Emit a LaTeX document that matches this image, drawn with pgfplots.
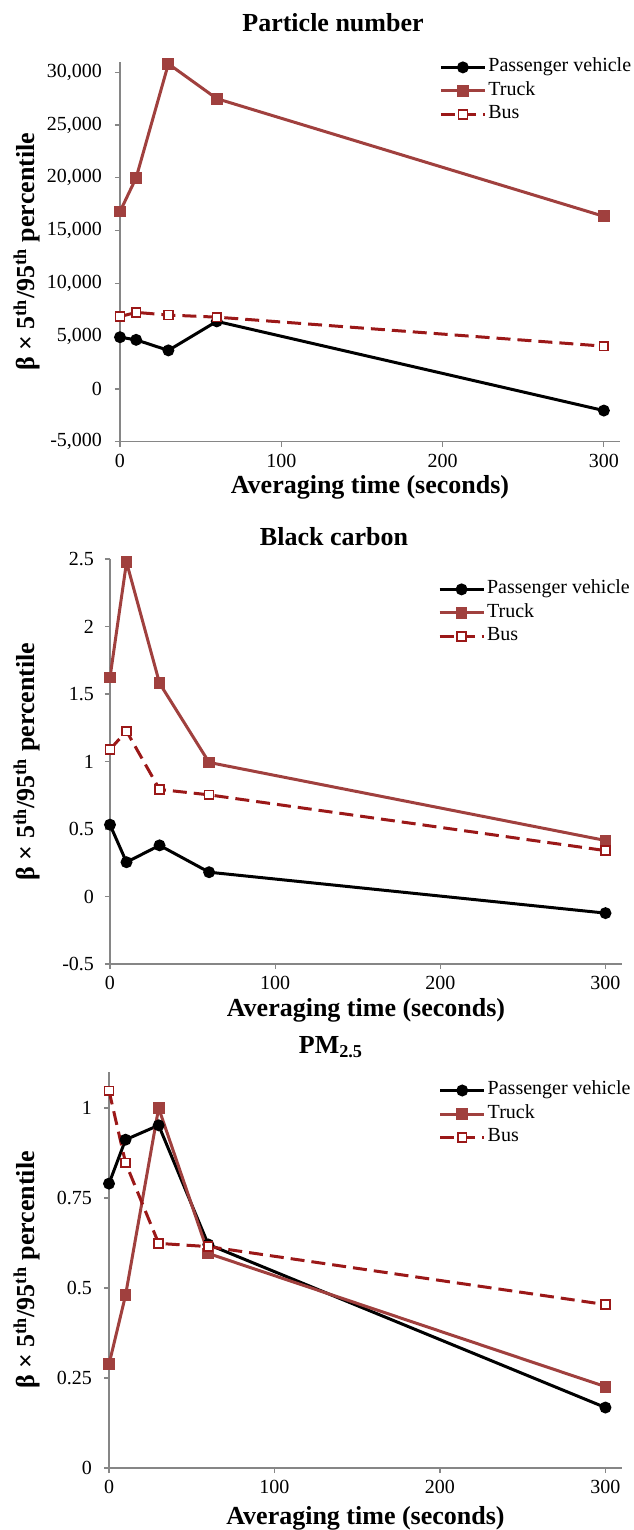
\documentclass[border=0pt]{standalone}
\usepackage{fontspec}
\setmainfont{Liberation Serif}
\usepackage{pgfplots}
\pgfplotsset{compat=1.18}
\definecolor{truckc}{RGB}{160,64,62}
\definecolor{busc}{RGB}{155,24,24}
\definecolor{axgray}{RGB}{134,134,134}
\pgfplotsset{
  base/.style={
    scale only axis,
    axis lines=left,
    axis line style={draw=axgray, line width=0.6pt, -},
    tick style={draw=axgray, line width=0.6pt},
    tick align=outside,
    major tick length=2.5pt,
    xmin=0, xmax=310,
    xtick={0,100,200,300},
    /pgf/number format/assume math mode=true,
    ticklabel style={font=\fontsize{10}{12}\selectfont},
    scaled y ticks=false,
    label style={font=\bfseries\fontsize{13}{15}\selectfont},
    xlabel={Averaging time (seconds)},
    ylabel={β × 5\textsuperscript{th}/95\textsuperscript{th} percentile},
    legend cell align=left,
    legend style={draw=none, fill=none, inner sep=0pt, row sep=0pt,
      font=\fontsize{10}{12}\selectfont,
      nodes={inner sep=1pt, text height=7pt, text depth=2.75pt},
      anchor=north west},
    legend image code/.code={\draw[mark repeat=2,mark phase=2] plot coordinates {(0pt,0pt) (11pt,0pt) (22pt,0pt)};},
  },
  pv/.style={black, line width=1.5pt, mark=*, mark size=2.2pt, mark options={solid, fill=black}},
  tr/.style={truckc, line width=1.5pt, mark=square*, mark size=2.2pt, mark options={solid, fill=truckc}},
  bu/.style={busc, line width=1.5pt, dash pattern=on 7pt off 3.5pt, mark=square*, mark size=2.2pt, mark options={solid, fill=white, draw=busc, line width=0.8pt}},
}
\begin{document}
\begin{tikzpicture}[x=1pt,y=1pt]
% Panel 1: Particle number
\begin{axis}[base,
  at={(60pt,-220.85pt)}, anchor=south west,
  width=250pt, height=190pt,
  ymin=-5000, ymax=31000,
  ytick={-5000,0,5000,10000,15000,20000,25000,30000},
  yticklabel style={/pgf/number format/fixed, /pgf/number format/1000 sep={,}, xshift=-3pt},
  x label style={at={(axis description cs:0.5,-0.121)}, anchor=center},
  y label style={at={(axis description cs:-0.186,0.5)}, anchor=center},
  legend style={at={(axis description cs:0.638,1.017)}},
]
\addplot[pv] coordinates {(0,4900) (10,4650) (30,3650) (60,6400) (300,-2050)};
\addlegendentry{Passenger vehicle}
\addplot[tr] coordinates {(0,16800) (10,20000) (30,30800) (60,27500) (300,16350)};
\addlegendentry{Truck}
\addplot[bu] coordinates {(0,6850) (10,7250) (30,7000) (60,6800) (300,4050)};
\addlegendentry{Bus}
\end{axis}
% Panel 2: Black carbon
\begin{axis}[base,
  at={(55pt,-482pt)}, anchor=south west,
  width=256pt, height=202.5pt,
  ymin=-0.5, ymax=2.5,
  ytick={-0.5,0,0.5,1,1.5,2,2.5},
  yticklabel style={xshift=-2pt},
  x label style={at={(axis description cs:0.5,-0.1136)}, anchor=center},
  y label style={at={(axis description cs:-0.162,0.5)}, anchor=center},
  legend style={at={(axis description cs:0.64,0.955)}},
]
\addplot[pv] coordinates {(0,0.532) (10,0.254) (30,0.379) (60,0.18) (300,-0.123)};
\addlegendentry{Passenger vehicle}
\addplot[tr] coordinates {(0,1.623) (10,2.477) (30,1.58) (60,0.993) (300,0.415)};
\addlegendentry{Truck}
\addplot[bu] coordinates {(0,1.09) (10,1.225) (30,0.793) (60,0.753) (300,0.34)};
\addlegendentry{Bus}
\end{axis}
% Panel 3: PM2.5
\begin{axis}[base,
  at={(54.5pt,-734pt)}, anchor=south west,
  width=256.5pt, height=198pt,
  ymin=0, ymax=1.1,
  ytick={0,0.25,0.5,0.75,1},
  yticklabel style={xshift=-2.5pt},
  x label style={at={(axis description cs:0.5,-0.126)}, anchor=center},
  y label style={at={(axis description cs:-0.16,0.5)}, anchor=center},
  legend style={at={(axis description cs:0.642,0.984)}},
]
\addplot[pv] coordinates {(0,0.79) (10,0.912) (30,0.952) (60,0.621) (300,0.168)};
\addlegendentry{Passenger vehicle}
\addplot[tr] coordinates {(0,0.288) (10,0.48) (30,1.0) (60,0.596) (300,0.226)};
\addlegendentry{Truck}
\addplot[bu] coordinates {(0,1.048) (10,0.848) (30,0.624) (60,0.615) (300,0.454)};
\addlegendentry{Bus}
\end{axis}
% Titles
\node[font=\bfseries\fontsize{13}{15}\selectfont] at (166.5pt,-11.5pt) {Particle number};
\node[font=\bfseries\fontsize{13}{15}\selectfont] at (167pt,-268.5pt) {Black carbon};
\node[font=\bfseries\fontsize{13}{15}\selectfont] at (165.5pt,-523.5pt) {PM\textsubscript{2.5}};
\pgfresetboundingbox
\useasboundingbox (0pt,0pt) rectangle (316.5pt,-765pt);
\end{tikzpicture}
\end{document}
